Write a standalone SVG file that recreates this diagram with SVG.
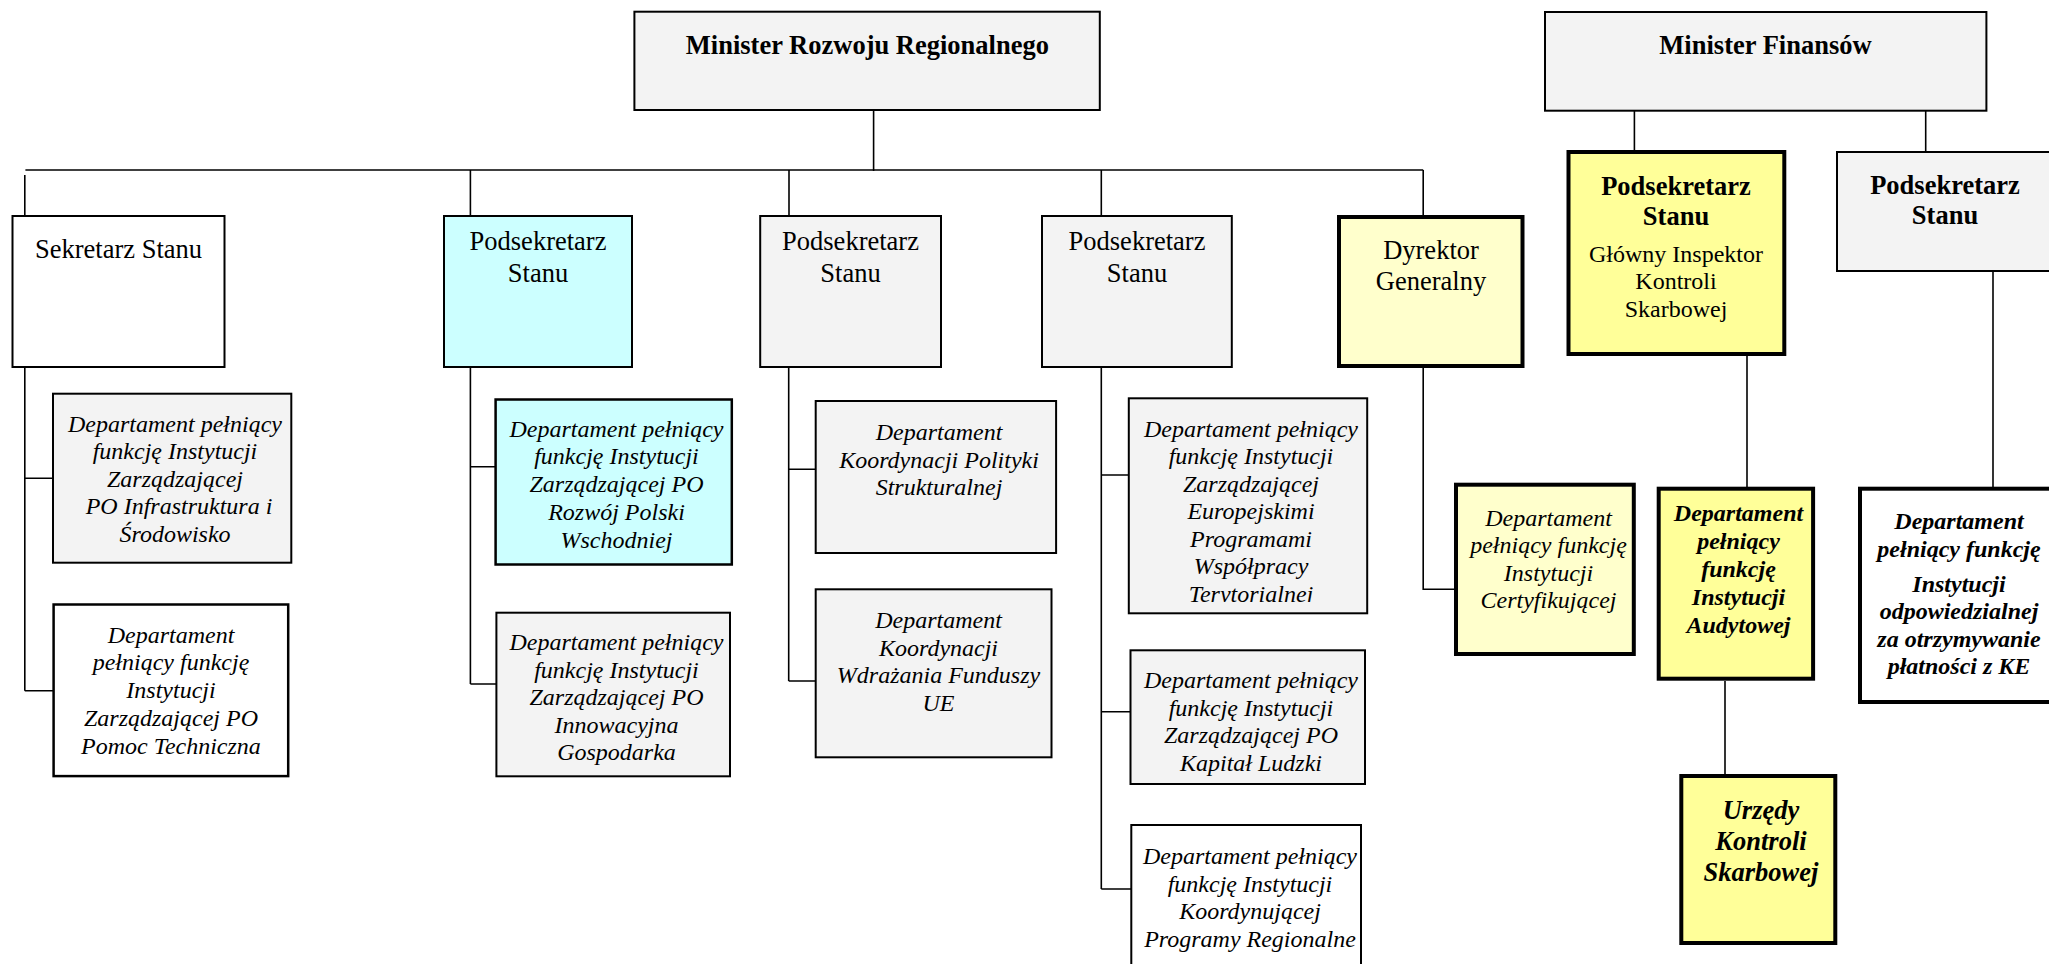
<svg xmlns="http://www.w3.org/2000/svg" width="2049" height="964" viewBox="0 0 2049 964">
<style>
.conn{stroke:#000;stroke-width:1.6;fill:none}
.box{stroke:#000;stroke-width:2}
.b25{stroke-width:2.5}
.thick{stroke-width:4}
.gray{fill:#F3F3F3}
.white{fill:#FFFFFF}
.cyan{fill:#CCFFFF}
.ly{fill:#FFFFCC}
.yl{fill:#FFFF99}
text{font-family:"Liberation Serif","Times New Roman",serif;text-anchor:middle;fill:#000}
.r26{font-size:26.5px}
.b26{font-size:26.5px;font-weight:bold}
.r24{font-size:24px}
.i24{font-size:24px;font-style:italic}
.bi24{font-size:24px;font-style:italic;font-weight:bold}
.bi26{font-size:26.5px;font-style:italic;font-weight:bold}
</style>
<defs>
<clipPath id="clipEur"><rect x="1128" y="398" width="240" height="204"/></clipPath>
</defs>
<rect width="2049" height="964" fill="#FFFFFF"/>
<g id="connectors">
<path class="conn" d="M873.6,110 V171"/>
<path class="conn" d="M25.4,170 H1423.2"/>
<path class="conn" d="M24.8,175 V216"/>
<path class="conn" d="M470.4,170 V216"/>
<path class="conn" d="M789,170 V216"/>
<path class="conn" d="M1101.3,170 V216"/>
<path class="conn" d="M1423.2,170 V215"/>
<path class="conn" d="M24.8,367 V690.7 M24.8,478.3 H53 M24.8,690.7 H53"/>
<path class="conn" d="M470.4,367 V684 M470.4,466.7 H495 M470.4,684 H496"/>
<path class="conn" d="M788.7,367 V681 M788.7,469.3 H815.5 M788.7,681 H815.5"/>
<path class="conn" d="M1101.3,367 V889 M1101.3,475 H1128.5 M1101.3,711.7 H1130 M1101.3,889 H1131"/>
<path class="conn" d="M1423.2,368 V589.3 H1455"/>
<path class="conn" d="M1634.4,110.7 V151"/>
<path class="conn" d="M1925.7,110.7 V152"/>
<path class="conn" d="M1747,356 V487"/>
<path class="conn" d="M1725,681 V775"/>
<path class="conn" d="M1993,272 V487"/>
</g>
<g id="minister-rr">
<rect class="box gray" x="634.4" y="11.7" width="465.4" height="98.3"/>
<text class="b26" x="867.4" y="54">Minister Rozwoju Regionalnego</text>
</g>
<g id="minister-fin">
<rect class="box gray" x="1545" y="12" width="441.4" height="98.7"/>
<text class="b26" x="1765.5" y="54">Minister Finansów</text>
</g>
<g id="sekretarz">
<rect class="box white" x="12.5" y="216" width="212" height="151"/>
<text class="r26" x="118.5" y="258">Sekretarz Stanu</text>
</g>
<g id="podsek-cyan">
<rect class="box cyan" x="444" y="216" width="188" height="151"/>
<text class="r26" x="538" y="250">Podsekretarz</text>
<text class="r26" x="538" y="281.7">Stanu</text>
</g>
<g id="podsek-gray1">
<rect class="box gray" x="760.2" y="216" width="180.8" height="151"/>
<text class="r26" x="850.5" y="250">Podsekretarz</text>
<text class="r26" x="850.5" y="281.7">Stanu</text>
</g>
<g id="podsek-gray2">
<rect class="box gray" x="1042" y="216" width="189.8" height="151"/>
<text class="r26" x="1137" y="250">Podsekretarz</text>
<text class="r26" x="1137" y="281.7">Stanu</text>
</g>
<g id="dyrektor">
<rect class="box thick ly" x="1339" y="217" width="183.5" height="149"/>
<text class="r26" x="1431" y="259.3">Dyrektor</text>
<text class="r26" x="1431" y="290">Generalny</text>
</g>
<g id="podsek-yellow">
<rect class="box thick yl" x="1568.5" y="152" width="215.8" height="202"/>
<text class="b26" x="1676" y="195">Podsekretarz</text>
<text class="b26" x="1676" y="225">Stanu</text>
<text class="r24" x="1676" y="261.7">Główny Inspektor</text>
<text class="r24" x="1676" y="289.3">Kontroli</text>
<text class="r24" x="1676" y="316.7">Skarbowej</text>
</g>
<g id="podsek-right">
<rect class="box gray" x="1837" y="152" width="250" height="119"/>
<text class="b26" x="1945" y="194">Podsekretarz</text>
<text class="b26" x="1945" y="224">Stanu</text>
</g>
<g id="dept-infra">
<rect class="box gray" x="53" y="393.7" width="238.3" height="169"/>
<text class="i24" x="175" y="431.7">Departament pełniący</text>
<text class="i24" x="175" y="459.2">funkcję Instytucji</text>
<text class="i24" x="175" y="486.7">Zarządzającej</text>
<text class="i24" x="179" y="514.2">PO Infrastruktura i</text>
<text class="i24" x="175" y="541.7">Środowisko</text>
</g>
<g id="dept-pomoc">
<rect class="box b25 white" x="53.6" y="604.5" width="234.6" height="171.6"/>
<text class="i24" x="171" y="642.7">Departament</text>
<text class="i24" x="171" y="670.4">pełniący funkcję</text>
<text class="i24" x="171" y="698.1">Instytucji</text>
<text class="i24" x="171" y="725.8">Zarządzającej PO</text>
<text class="i24" x="171" y="753.5">Pomoc Techniczna</text>
</g>
<g id="dept-wschod">
<rect class="box b25 cyan" x="495.6" y="399.5" width="236.2" height="165"/>
<text class="i24" x="616.5" y="436.7">Departament pełniący</text>
<text class="i24" x="616.5" y="464.4">funkcję Instytucji</text>
<text class="i24" x="616.5" y="492.1">Zarządzającej PO</text>
<text class="i24" x="616.5" y="519.8">Rozwój Polski</text>
<text class="i24" x="616.5" y="547.5">Wschodniej</text>
</g>
<g id="dept-innow">
<rect class="box gray" x="496.4" y="612.7" width="233.6" height="163.6"/>
<text class="i24" x="616.5" y="650">Departament pełniący</text>
<text class="i24" x="616.5" y="677.5">funkcję Instytucji</text>
<text class="i24" x="616.5" y="705">Zarządzającej PO</text>
<text class="i24" x="616.5" y="732.5">Innowacyjna</text>
<text class="i24" x="616.5" y="760">Gospodarka</text>
</g>
<g id="dept-polityki">
<rect class="box gray" x="815.7" y="401" width="240.4" height="152"/>
<text class="i24" x="939" y="440">Departament</text>
<text class="i24" x="939" y="467.5">Koordynacji Polityki</text>
<text class="i24" x="939" y="495">Strukturalnej</text>
</g>
<g id="dept-wdrazania">
<rect class="box gray" x="815.7" y="589.3" width="235.8" height="168"/>
<text class="i24" x="938.5" y="628.3">Departament</text>
<text class="i24" x="938.5" y="655.8">Koordynacji</text>
<text class="i24" x="938.5" y="683.3">Wdrażania Funduszy</text>
<text class="i24" x="938.5" y="710.8">UE</text>
</g>
<g id="dept-europ">
<rect class="box gray" x="1128.8" y="398.3" width="238.4" height="215"/>
<g clip-path="url(#clipEur)">
<text class="i24" x="1251" y="436.7">Departament pełniący</text>
<text class="i24" x="1251" y="464.2">funkcję Instytucji</text>
<text class="i24" x="1251" y="491.7">Zarządzającej</text>
<text class="i24" x="1251" y="519.2">Europejskimi</text>
<text class="i24" x="1251" y="546.7">Programami</text>
<text class="i24" x="1251" y="574.2">Współpracy</text>
<text class="i24" x="1251" y="601.7">Terytorialnej</text>
</g>
</g>
<g id="dept-kapital">
<rect class="box gray" x="1130.5" y="650.3" width="234.5" height="133.7"/>
<text class="i24" x="1251" y="688.3">Departament pełniący</text>
<text class="i24" x="1251" y="715.8">funkcję Instytucji</text>
<text class="i24" x="1251" y="743.3">Zarządzającej PO</text>
<text class="i24" x="1251" y="770.8">Kapitał Ludzki</text>
</g>
<g id="dept-regionalne">
<rect class="box white" x="1131.3" y="825" width="229.7" height="200"/>
<text class="i24" x="1250" y="864.3">Departament pełniący</text>
<text class="i24" x="1250" y="891.5">funkcję Instytucji</text>
<text class="i24" x="1250" y="919">Koordynującej</text>
<text class="i24" x="1250" y="946.5">Programy Regionalne</text>
</g>
<g id="dept-certyf">
<rect class="box thick ly" x="1456" y="484.7" width="177.8" height="169.3"/>
<text class="i24" x="1548.5" y="525.7">Departament</text>
<text class="i24" x="1548.5" y="553.2">pełniący funkcję</text>
<text class="i24" x="1548.5" y="580.7">Instytucji</text>
<text class="i24" x="1548.5" y="608.2">Certyfikującej</text>
</g>
<g id="dept-audyt">
<rect class="box thick yl" x="1658.7" y="488.7" width="154.4" height="190"/>
<text class="bi24" x="1738.5" y="521">Departament</text>
<text class="bi24" x="1738.5" y="549">pełniący</text>
<text class="bi24" x="1738.5" y="577">funkcję</text>
<text class="bi24" x="1738.5" y="605">Instytucji</text>
<text class="bi24" x="1738.5" y="633">Audytowej</text>
</g>
<g id="dept-platnosci">
<rect class="box thick white" x="1860" y="488.7" width="250" height="213.3"/>
<text class="bi24" x="1959" y="529.3">Departament</text>
<text class="bi24" x="1959" y="556.7">pełniący funkcję</text>
<text class="bi24" x="1959" y="591.7">Instytucji</text>
<text class="bi24" x="1959" y="619.3">odpowiedzialnej</text>
<text class="bi24" x="1959" y="646.7">za otrzymywanie</text>
<text class="bi24" x="1959" y="674.3">płatności z KE</text>
</g>
<g id="urzedy">
<rect class="box thick yl" x="1681.3" y="776" width="154" height="167"/>
<text class="bi26" x="1761" y="819.3">Urzędy</text>
<text class="bi26" x="1761" y="850">Kontroli</text>
<text class="bi26" x="1761" y="880.5">Skarbowej</text>
</g>
</svg>
